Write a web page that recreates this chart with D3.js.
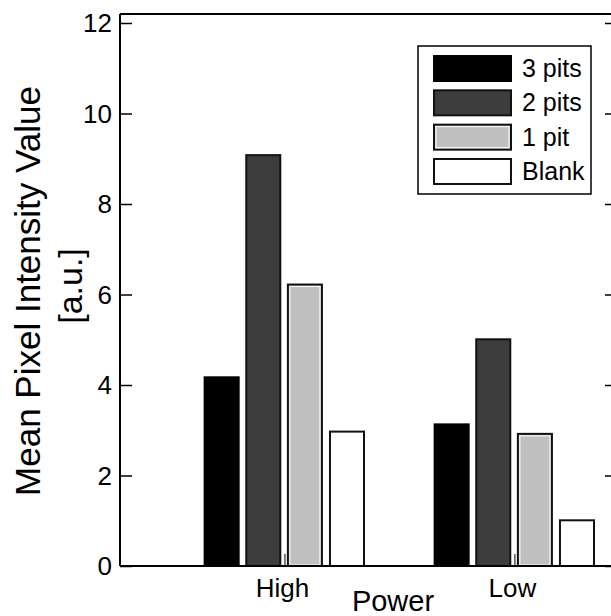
<!DOCTYPE html>
<html>
<head>
<meta charset="utf-8">
<script src="https://cdn.jsdelivr.net/npm/d3@7"></script>
<style>
  html, body { margin: 0; padding: 0; background: #fff; }
  svg { display: block; font-family: "Liberation Sans", Arial, sans-serif; }
</style>
</head>
<body>
<svg id="chart" width="611" height="616"></svg>
<script>
// ---- data ----
const categories = ["High", "Low"];
const seriesNames = ["3 pits", "2 pits", "1 pit", "Blank"];
const series3pits = [4.17, 3.13];
const series2pits = [9.08, 5.01];
const series1pit  = [6.22, 2.92];
const seriesBlank = [2.97, 1.01];
const yTicks = [0, 2, 4, 6, 8, 10, 12];

(function () {
const seriesValues = [series3pits, series2pits, series1pit, seriesBlank];
const fills   = ["#000000", "#3d3d3d", "#c0c0c0", "#ffffff"];
const strokes = ["#000000", "#111111", "#111111", "#111111"];

const svg = d3.select("#chart");

// plot frame
const pLeft = 120, pRight = 617, pTop = 14, pBottom = 566;

const x = d3.scaleLinear().domain([0.285, 2.446]).range([pLeft, pRight]);
const y = d3.scaleLinear().domain([0, 12]).range([pBottom, 23]);

const offsets = [-0.273, -0.092, 0.089, 0.272];
const barW = 0.148;

// bars
seriesValues.forEach((vals, si) => {
  const g = svg.append("g");
  g.selectAll("rect.bar").data(vals).join("rect")
    .attr("class", "bar")
    .attr("x", (d, i) => x(i + 1 + offsets[si] - barW / 2))
    .attr("y", d => y(d))
    .attr("width", x(barW) - x(0))
    .attr("height", d => y(0) - y(d))
    .attr("fill", fills[si])
    .attr("stroke", strokes[si])
    .attr("stroke-width", 2);
  if (si === 2) {
    g.selectAll("rect.inner").data(vals).join("rect")
      .attr("class", "inner")
      .attr("x", (d, i) => x(i + 1 + offsets[si] - barW / 2) + 2)
      .attr("y", d => y(d) + 2)
      .attr("width", x(barW) - x(0) - 4)
      .attr("height", d => y(0) - y(d) - 3)
      .attr("fill", "none")
      .attr("stroke", "#ffffff")
      .attr("stroke-width", 1);
  }
});

// frame lines
svg.append("line").attr("x1", pLeft).attr("x2", pLeft).attr("y1", pTop).attr("y2", pBottom)
  .attr("stroke", "#000").attr("stroke-width", 2);
svg.append("line").attr("x1", pLeft).attr("x2", pRight).attr("y1", pBottom).attr("y2", pBottom)
  .attr("stroke", "#000").attr("stroke-width", 2);
svg.append("line").attr("x1", pLeft).attr("x2", pRight).attr("y1", pTop).attr("y2", pTop)
  .attr("stroke", "#000").attr("stroke-width", 2);
svg.append("line").attr("x1", pRight).attr("x2", pRight).attr("y1", pTop).attr("y2", pBottom)
  .attr("stroke", "#000").attr("stroke-width", 2);

// y axis (left), ticks inward
const yAxisL = d3.axisRight(y).tickValues(yTicks).tickSize(12).tickFormat("");
const gl = svg.append("g").attr("transform", `translate(${pLeft},0)`).call(yAxisL);
gl.select(".domain").remove();
gl.selectAll("line").attr("stroke", "#000").attr("stroke-width", 1.5);

const yAxisR = d3.axisLeft(y).tickValues(yTicks).tickSize(12).tickFormat("");
const gr = svg.append("g").attr("transform", `translate(${pRight},0)`).call(yAxisR);
gr.select(".domain").remove();
gr.selectAll("line").attr("stroke", "#000").attr("stroke-width", 1.5);

// y tick labels
svg.append("g").selectAll("text").data(yTicks).join("text")
  .attr("x", 112)
  .attr("y", d => y(d))
  .attr("dy", "0.36em")
  .attr("text-anchor", "end")
  .attr("font-size", 26)
  .attr("fill", "#000")
  .text(d => d);

// x axis ticks inward (small)
const xAxis = d3.axisTop(x).tickValues([1, 2]).tickSize(12).tickFormat("");
const gx = svg.append("g").attr("transform", `translate(0,${pBottom})`).call(xAxis);
gx.select(".domain").remove();
gx.selectAll("line").attr("stroke", "#000").attr("stroke-width", 1);

// category labels
svg.append("g").selectAll("text").data(categories).join("text")
  .attr("x", (d, i) => x(i + 1) - 2)
  .attr("y", 597)
  .attr("text-anchor", "middle")
  .attr("font-size", 26)
  .attr("fill", "#000")
  .text(d => d);

// x title
svg.append("text")
  .attr("x", 393).attr("y", 611)
  .attr("text-anchor", "middle")
  .attr("font-size", 29)
  .attr("fill", "#000")
  .text("Power");

// y title
svg.append("text")
  .attr("transform", "translate(40,291) rotate(-90)")
  .attr("text-anchor", "middle")
  .attr("font-size", 35)
  .attr("fill", "#000")
  .text("Mean Pixel Intensity Value");
svg.append("text")
  .attr("transform", "translate(82,286) rotate(-90)")
  .attr("text-anchor", "middle")
  .attr("font-size", 34)
  .attr("fill", "#000")
  .text("[a.u.]");

// legend
const lg = svg.append("g");
lg.append("rect").attr("x", 418).attr("y", 46).attr("width", 173).attr("height", 148)
  .attr("fill", "#fff").attr("stroke", "#000").attr("stroke-width", 1.5);
const rowY = d3.scaleLinear().domain([0, 3]).range([56, 159]);
const rows = lg.selectAll("g.row").data(seriesNames).join("g").attr("class", "row")
  .attr("transform", (d, i) => `translate(0,${rowY(i)})`);
rows.append("rect")
  .attr("x", 434).attr("y", 0).attr("width", 77).attr("height", 25)
  .attr("fill", (d, i) => fills[i])
  .attr("stroke", (d, i) => strokes[i])
  .attr("stroke-width", 2);
rows.filter((d, i) => i === 2).append("rect")
  .attr("x", 436).attr("y", 2).attr("width", 73).attr("height", 21)
  .attr("fill", "none").attr("stroke", "#fff").attr("stroke-width", 1);
rows.append("text")
  .attr("x", 522).attr("y", 21)
  .attr("font-size", 25)
  .attr("fill", "#000")
  .text(d => d);
})();
</script>
</body>
</html>
